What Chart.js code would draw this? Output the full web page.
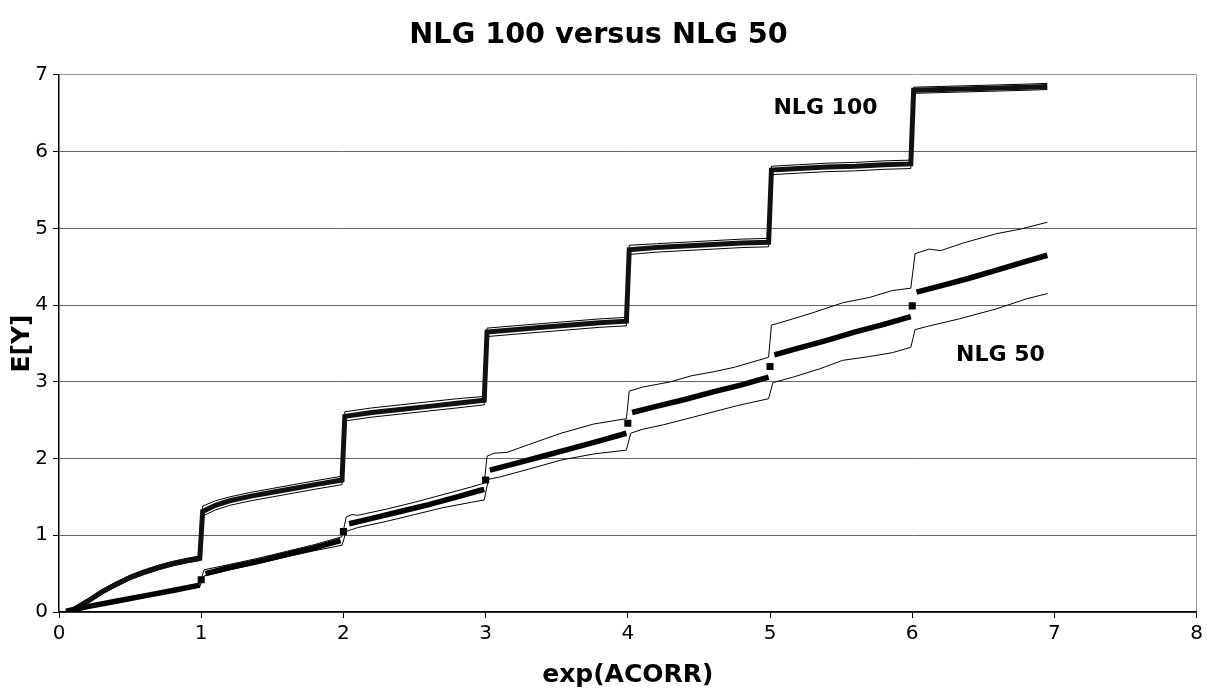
<!DOCTYPE html>
<html>
<head>
<meta charset="utf-8">
<script src="https://cdn.jsdelivr.net/npm/chart.js@4.4.1/dist/chart.umd.min.js"></script>
<style>
html,body{margin:0;padding:0;background:#fff;}
#wrap{width:1207px;height:690px;position:relative;}
</style>
</head>
<body>
<div id="wrap"><canvas id="c"></canvas></div>
<script>
// ---- NLG 100: mean and band ----
const x100 = [0.05,0.1,0.2,0.3,0.4,0.5,0.6,0.7,0.8,0.9,0.99,1.01,1.1,1.2,1.35,1.5,1.65,1.8,1.99,2.01,2.2,2.4,2.6,2.8,2.99,3.01,3.2,3.4,3.6,3.8,3.99,4.01,4.2,4.4,4.6,4.8,4.99,5.01,5.2,5.4,5.6,5.8,5.99,6.01,6.2,6.4,6.6,6.8,6.95];
const mean100 = [0,0.03,0.14,0.26,0.36,0.45,0.52,0.58,0.63,0.67,0.7, 1.31,1.39,1.45,1.51,1.56,1.61,1.66,1.72, 2.55,2.6,2.64,2.68,2.72,2.76, 3.65,3.68,3.71,3.74,3.77,3.79, 4.72,4.75,4.77,4.79,4.81,4.82, 5.76,5.78,5.8,5.81,5.83,5.84, 6.8,6.81,6.82,6.83,6.84,6.85];
const upper100 = [0.01,0.05,0.17,0.29,0.39,0.48,0.55,0.61,0.66,0.7,0.73, 1.38,1.45,1.5,1.56,1.61,1.66,1.71,1.77, 2.61,2.66,2.7,2.74,2.78,2.81, 3.7,3.73,3.76,3.79,3.82,3.84, 4.78,4.8,4.82,4.84,4.86,4.87, 5.81,5.83,5.85,5.86,5.88,5.89, 6.84,6.85,6.86,6.87,6.88,6.89];
const lower100 = [0,0.01,0.11,0.23,0.33,0.42,0.49,0.55,0.6,0.64,0.67, 1.25,1.33,1.39,1.45,1.5,1.55,1.6,1.66, 2.49,2.54,2.58,2.62,2.66,2.7, 3.59,3.62,3.65,3.68,3.71,3.73, 4.66,4.69,4.71,4.73,4.75,4.76, 5.7,5.72,5.74,5.75,5.77,5.78, 6.76,6.77,6.78,6.79,6.8,6.81];

// ---- NLG 50: mean (broken at the jumps), jump markers and band ----
const x50 = [0.05,0.2,0.4,0.6,0.8,0.99,1.0,1.03,1.2,1.4,1.6,1.8,1.98,2.0,2.04,2.2,2.4,2.6,2.8,2.99,3.0,3.03,3.2,3.4,3.6,3.8,3.99,4.0,4.03,4.2,4.4,4.6,4.8,4.99,5.0,5.03,5.2,5.4,5.6,5.8,5.99,6.0,6.03,6.2,6.4,6.6,6.8,6.95];
const mean50 = [0.01,0.07,0.14,0.21,0.28,0.35,null,0.5,0.58,0.66,0.75,0.84,0.93,null,1.15,1.22,1.31,1.4,1.5,1.6,null,1.85,1.93,2.03,2.13,2.23,2.33,null,2.6,2.68,2.77,2.87,2.96,3.06,null,3.35,3.44,3.54,3.65,3.75,3.85,null,4.17,4.25,4.35,4.46,4.57,4.65];
const jumpX50 = [1.0,2.0,3.0,4.0,5.0,6.0];
const jumpY50 = [0.42,1.05,1.72,2.46,3.2,3.99];
const xUp50 = [0.05,0.2,0.4,0.6,0.8,0.99,1.02,1.2,1.4,1.6,1.8,1.99,2.02,2.06,2.1,2.3,2.5,2.7,2.9,2.99,3.01,3.06,3.15,3.3,3.53,3.76,3.99,4.01,4.05,4.1,4.3,4.45,4.6,4.75,4.99,5.01,5.05,5.16,5.3,5.51,5.7,5.86,5.99,6.02,6.12,6.2,6.36,6.59,6.76,6.95];
const upper50 = [0.01,0.08,0.15,0.22,0.29,0.37, 0.55,0.62,0.7,0.79,0.88,0.98, 1.24,1.27,1.26,1.34,1.43,1.53,1.63,1.68, 2.03,2.07,2.08,2.18,2.33,2.45,2.52, 2.88,2.9,2.93,3.0,3.08,3.13,3.19,3.32, 3.74,3.76,3.82,3.9,4.03,4.1,4.19,4.22, 4.67,4.73,4.71,4.81,4.93,4.99,5.08];
const xLo50 = [0.05,0.2,0.4,0.6,0.8,0.99,1.02,1.2,1.4,1.6,1.8,1.99,2.02,2.1,2.3,2.5,2.7,2.9,2.99,3.02,3.1,3.3,3.53,3.76,3.99,4.02,4.1,4.25,4.46,4.77,4.99,5.02,5.16,5.35,5.51,5.7,5.86,5.99,6.02,6.1,6.33,6.59,6.8,6.95];
const lower50 = [0,0.06,0.13,0.2,0.27,0.33, 0.47,0.55,0.63,0.72,0.8,0.87, 1.05,1.1,1.18,1.27,1.36,1.43,1.46, 1.73,1.76,1.86,1.98,2.06,2.11, 2.33,2.38,2.44,2.54,2.69,2.78, 2.99,3.06,3.17,3.28,3.33,3.38,3.45, 3.68,3.72,3.82,3.95,4.08,4.15];

// ---- axis ticks and in-chart labels ----
const xTicks = [0,1,2,3,4,5,6,7,8];
const yTicks = [0,1,2,3,4,5,6,7];
const seriesLabels = ['NLG 100','NLG 50'];
const seriesLabelX = [5.39,6.62];
const seriesLabelY = [6.56,3.34];

const FONT = "'DejaVu Sans', Verdana, sans-serif";
const pts = (xs, ys) => xs.map((x, i) => ({x: x, y: ys[i]}));

const thin = {borderColor:'#000', borderWidth:1, pointRadius:0, showLine:true, fill:false, tension:0};

const labelPlugin = {
  id: 'seriesLabels',
  afterDatasetsDraw(chart) {
    const ctx = chart.ctx, xs = chart.scales.x, ys = chart.scales.y;
    ctx.save();
    ctx.fillStyle = '#000';
    ctx.font = "bold 22px " + FONT;
    ctx.textAlign = 'center';
    ctx.textBaseline = 'middle';
    seriesLabels.forEach((t, i) => {
      ctx.fillText(t, xs.getPixelForValue(seriesLabelX[i]), ys.getPixelForValue(seriesLabelY[i]));
    });
    ctx.restore();
  }
};

new Chart(document.getElementById('c'), {
  type: 'scatter',
  data: {
    datasets: [
      {label:'NLG 50 markers', data: pts(jumpX50, jumpY50), showLine:false, pointStyle:'rect', pointRadius:5, backgroundColor:'#000', borderColor:'#000', borderWidth:0},
      {label:'NLG 50', data: pts(x50, mean50), borderColor:'#000', borderWidth:5.5, pointRadius:0, showLine:true, spanGaps:false, borderCapStyle:'butt', tension:0},
      Object.assign({label:'NLG 50 upper', data: pts(xUp50, upper50)}, thin),
      Object.assign({label:'NLG 50 lower', data: pts(xLo50, lower50)}, thin),
      {label:'NLG 100', data: pts(x100, mean100), borderColor:'#111', borderWidth:5, pointRadius:0, showLine:true, tension:0},
      Object.assign({label:'NLG 100 upper', data: pts(x100, upper100)}, thin),
      Object.assign({label:'NLG 100 lower', data: pts(x100, lower100)}, thin)
    ]
  },
  options: {
    responsive: true,
    maintainAspectRatio: false,
    animation: false,
    layout: {padding: {left: 0, right: 10, top: 0, bottom: 0}},
    plugins: {
      legend: {display: false},
      tooltip: {enabled: false},
      title: {
        display: true,
        text: 'NLG 100 versus NLG 50',
        color: '#000',
        font: {family: FONT, size: 28.7, weight: 'bold', lineHeight: 1.2},
        padding: {top: 18, bottom: 22.5}
      }
    },
    scales: {
      x: {
        type: 'linear', min: 0, max: 8,
        afterBuildTicks: s => { s.ticks = xTicks.map(v => ({value: v})); },
        afterFit: s => { s.height = 78; },
        ticks: {color:'#000', font:{family: FONT, size: 20}, padding: 4, maxRotation: 0},
        grid: {
          drawOnChartArea: true, drawTicks: true, tickLength: 6, tickColor: '#000', lineWidth: 1,
          color: c => (c.tick && c.tick.value === 8) ? '#999' : 'rgba(0,0,0,0)'
        },
        border: {color:'#000', width: 1.5},
        title: {display: true, text: 'exp(ACORR)', color:'#000', font:{family: FONT, size: 25, weight:'bold', lineHeight: 1.2}, padding: {top: 0, bottom: 0}}
      },
      y: {
        type: 'linear', min: 0, max: 7,
        afterBuildTicks: s => { s.ticks = yTicks.map(v => ({value: v})); },
        afterFit: s => { s.width = 59; },
        ticks: {color:'#000', font:{family: FONT, size: 20}, padding: 5},
        grid: {
          drawTicks: true, tickLength: 6, tickColor:'#000', lineWidth: 1,
          color: c => (c.tick && c.tick.value === 7) ? '#999' : '#666'
        },
        border: {color:'#000', width: 1.5},
        title: {display: true, text: 'E[Y]', color:'#000', font:{family: FONT, size: 25, weight:'bold', lineHeight: 1.2}, padding: {top: 7, bottom: 0}}
      }
    }
  },
  plugins: [labelPlugin]
});
</script>
</body>
</html>
